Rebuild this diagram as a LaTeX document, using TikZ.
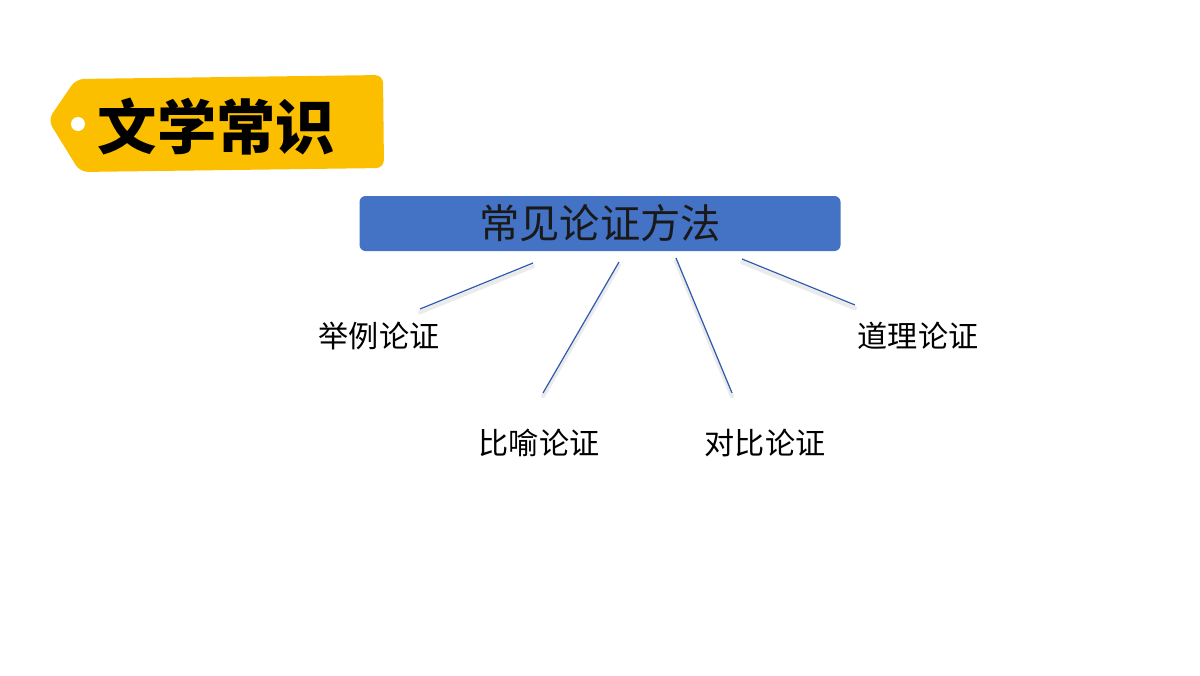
\documentclass[tikz,border=0pt]{standalone}
\usepackage{fontspec}
\newfontfamily\cjk{Noto Sans CJK SC}
\newfontfamily\cjkbold{Noto Sans CJK SC Black}
\definecolor{tagyellow}{HTML}{FBBF00}
\definecolor{boxblue}{HTML}{4472C4}
\definecolor{lineblue}{HTML}{2F5AAE}
\begin{document}
\begin{tikzpicture}[x=0.75pt,y=-0.75pt,
  label/.style={font=\cjk\fontsize{22.6}{24}\selectfont, text=black, inner sep=0pt},
  conn/.style={draw=lineblue, line width=0.9pt},
  connshadow/.style={draw=black!8, line width=3pt, line cap=round}]
\useasboundingbox (0,0) rectangle (1200,675);
% tag
\path[fill=tagyellow, rounded corners=6pt]
  (48,120) -- (76,79) -- (383,75) -- (384,168) -- (80,172) -- cycle;
\node[circle, fill=white, minimum size=10.5pt, inner sep=0pt] (hole) at (78,124) {};
\node[font=\cjkbold\fontsize{44.5}{48}\selectfont, inner sep=0pt] (title) at (216.5,127) {文学常识};
% main box
\node[fill=boxblue, rounded corners=4.5pt, minimum width=360.75pt, minimum height=41.25pt,
  inner sep=0pt, font=\cjk\fontsize{30.2}{33}\selectfont, text=black!90] (main) at (600,223.5) {常见论证方法};
% labels
\node[label] (l1) at (379,336) {举例论证};
\node[label] (l2) at (539,443) {比喻论证};
\node[label] (l3) at (765,443) {对比论证};
\node[label] (l4) at (918,336) {道理论证};
% connector ends
\coordinate (s1) at (533,263); \coordinate (e1) at (420,309);
\coordinate (s2) at (619,262); \coordinate (e2) at (543,393);
\coordinate (s3) at (676,258); \coordinate (e3) at (732,393);
\coordinate (s4) at (742,259); \coordinate (e4) at (855,305);
\foreach \i in {1,2,3,4} {
  \draw[connshadow] ([yshift=-2.5pt]s\i) -- ([yshift=-2.5pt]e\i);
}
\foreach \i in {1,2,3,4} {
  \draw[conn] (s\i) -- (e\i);
}
\end{tikzpicture}
\end{document}
